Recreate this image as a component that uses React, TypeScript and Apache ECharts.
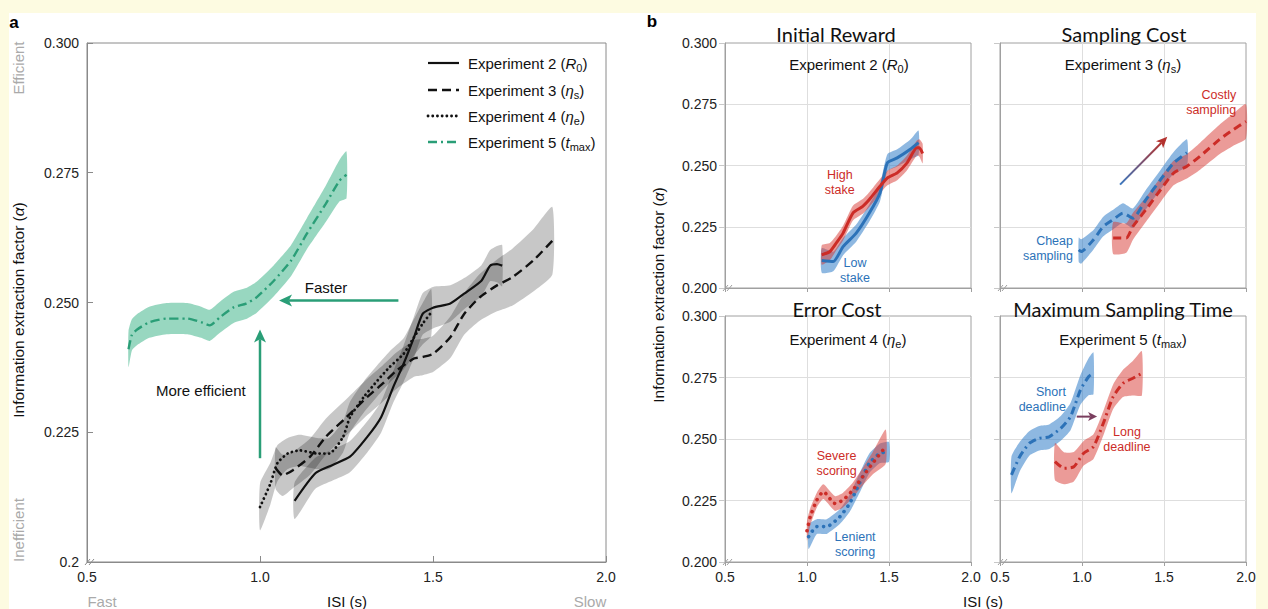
import React, { useEffect, useRef } from "react";
import * as echarts from "echarts";

// ---------------- Panel a data (ISI in s, information extraction factor) ----------------
const exp2X = [1.10, 1.16, 1.21, 1.26, 1.31, 1.35, 1.385, 1.415, 1.445, 1.47, 1.50, 1.55, 1.59, 1.64, 1.665, 1.685, 1.70];
const exp2Y = [0.2118, 0.2171, 0.2187, 0.2203, 0.2241, 0.2279, 0.2337, 0.2382, 0.2433, 0.2478, 0.2490, 0.2498, 0.2517, 0.2542, 0.2571, 0.2574, 0.2571];
const exp2E = [0.0035, 0.003, 0.003, 0.003, 0.003, 0.003, 0.003, 0.0035, 0.004, 0.004, 0.004, 0.0035, 0.003, 0.003, 0.003, 0.0035, 0.004];

const exp3X = [1.045, 1.065, 1.095, 1.145, 1.19, 1.25, 1.31, 1.355, 1.395, 1.445, 1.47, 1.50, 1.55, 1.59, 1.635, 1.685, 1.73, 1.79, 1.845];
const exp3Y = [0.2181, 0.2167, 0.2177, 0.2203, 0.2241, 0.2279, 0.2318, 0.2344, 0.2369, 0.2392, 0.2395, 0.2401, 0.2433, 0.2478, 0.2510, 0.2533, 0.2549, 0.2581, 0.2619];
const exp3E = [0.004, 0.004, 0.0035, 0.0035, 0.0035, 0.0035, 0.0035, 0.0035, 0.0035, 0.0035, 0.0035, 0.0035, 0.004, 0.004, 0.0045, 0.005, 0.0055, 0.006, 0.0065];

const exp4X = [1.00, 1.03, 1.05, 1.08, 1.115, 1.165, 1.20, 1.24, 1.26, 1.30, 1.34, 1.375, 1.415, 1.445, 1.47, 1.495];
const exp4Y = [0.2106, 0.2151, 0.2190, 0.2209, 0.2215, 0.2209, 0.2209, 0.2241, 0.2279, 0.2318, 0.2350, 0.2376, 0.2401, 0.2433, 0.2459, 0.2481];
const exp4E = [0.0045, 0.004, 0.0035, 0.003, 0.003, 0.003, 0.003, 0.003, 0.003, 0.003, 0.003, 0.003, 0.003, 0.0035, 0.004, 0.0045];

const exp5X = [0.62, 0.63, 0.645, 0.68, 0.73, 0.79, 0.83, 0.855, 0.885, 0.925, 0.96, 0.99, 1.04, 1.09, 1.135, 1.19, 1.23, 1.25];
const exp5Y = [0.2410, 0.2438, 0.2448, 0.2462, 0.2469, 0.2469, 0.2462, 0.2456, 0.2472, 0.2491, 0.2498, 0.2510, 0.2542, 0.2581, 0.2632, 0.2690, 0.2735, 0.2746];
const exp5E = [0.0035, 0.003, 0.003, 0.003, 0.003, 0.003, 0.003, 0.003, 0.003, 0.003, 0.003, 0.003, 0.003, 0.003, 0.003, 0.0035, 0.004, 0.0045];

// ---------------- Panel b data ----------------
const rewHighX = [1.09, 1.14, 1.18, 1.22, 1.28, 1.34, 1.38, 1.445, 1.49, 1.55, 1.61, 1.67, 1.685, 1.705];
const rewHighY = [0.2135, 0.2149, 0.2185, 0.2224, 0.2306, 0.2333, 0.2361, 0.2415, 0.2449, 0.2470, 0.2511, 0.2572, 0.2572, 0.2549];
const rewHighE = [0.004, 0.0035, 0.003, 0.003, 0.003, 0.003, 0.003, 0.003, 0.003, 0.003, 0.003, 0.003, 0.0035, 0.004];

const rewLowX = [1.09, 1.16, 1.22, 1.30, 1.38, 1.445, 1.49, 1.55, 1.63, 1.68];
const rewLowY = [0.2112, 0.2108, 0.2169, 0.2224, 0.2306, 0.2388, 0.2511, 0.2531, 0.2566, 0.2593];
const rewLowE = [0.005, 0.004, 0.0035, 0.0035, 0.0035, 0.0035, 0.0035, 0.0035, 0.004, 0.005];

const sampCheapX = [0.98, 0.995, 1.07, 1.13, 1.19, 1.25, 1.31, 1.39, 1.48, 1.56, 1.64];
const sampCheapY = [0.2156, 0.2149, 0.2197, 0.2251, 0.2279, 0.2306, 0.2285, 0.2361, 0.2443, 0.2511, 0.2552];
const sampCheapE = [0.005, 0.005, 0.004, 0.004, 0.004, 0.004, 0.004, 0.004, 0.004, 0.0045, 0.0055];

const sampCostlyX = [1.19, 1.27, 1.31, 1.39, 1.48, 1.56, 1.64, 1.72, 1.84, 1.92, 2.0];
const sampCostlyY = [0.2204, 0.2204, 0.2251, 0.2320, 0.2402, 0.2470, 0.2497, 0.2538, 0.2607, 0.2645, 0.2680];
const sampCostlyE = [0.0065, 0.006, 0.0055, 0.005, 0.005, 0.005, 0.005, 0.0055, 0.006, 0.0065, 0.007];

const errSevereX = [1.00, 1.02, 1.06, 1.10, 1.17, 1.22, 1.28, 1.34, 1.40, 1.48];
const errSevereY = [0.2127, 0.2184, 0.2252, 0.2286, 0.2238, 0.2252, 0.2293, 0.2347, 0.2401, 0.2469];
const errSevereE = [0.004, 0.0035, 0.003, 0.003, 0.003, 0.003, 0.003, 0.0035, 0.0045, 0.007];

const errLenientX = [1.01, 1.06, 1.12, 1.20, 1.26, 1.32, 1.38, 1.445, 1.50];
const errLenientY = [0.2103, 0.2144, 0.2144, 0.2184, 0.2238, 0.2320, 0.2401, 0.2442, 0.2448];
const errLenientE = [0.005, 0.003, 0.003, 0.003, 0.0035, 0.004, 0.004, 0.004, 0.004];

const tmaxShortX = [0.57, 0.62, 0.68, 0.74, 0.80, 0.87, 0.93, 0.99, 1.04, 1.07];
const tmaxShortY = [0.2354, 0.2428, 0.2483, 0.2503, 0.2509, 0.2543, 0.2591, 0.2699, 0.2753, 0.2767];
const tmaxShortE = [0.0075, 0.006, 0.005, 0.005, 0.005, 0.005, 0.0055, 0.006, 0.0075, 0.0085];

const tmaxLongX = [0.835, 0.89, 0.95, 1.01, 1.07, 1.13, 1.19, 1.25, 1.31, 1.365];
const tmaxLongY = [0.2408, 0.2381, 0.2387, 0.2442, 0.2469, 0.2564, 0.2672, 0.2726, 0.2747, 0.2767];
const tmaxLongE = [0.0075, 0.0065, 0.006, 0.005, 0.005, 0.005, 0.005, 0.0055, 0.007, 0.009];

// axis ticks
const xTicks = [0.5, 2.0, 0.5]; // min, max, interval
const yTicks = [0.2, 0.3, 0.025];

// panel b in-plot labels (data coordinates)
const bLabels = [
  { grid: 1, text: "High\nstake", x: 1.2, y: 0.2432, color: "red", align: "center" },
  { grid: 1, text: "Low\nstake", x: 1.293, y: 0.207, color: "blue", align: "center" },
  { grid: 2, text: "Costly\nsampling", x: 1.94, y: 0.2756, color: "red", align: "right" },
  { grid: 2, text: "Cheap\nsampling", x: 0.945, y: 0.216, color: "blue", align: "right" },
  { grid: 3, text: "Severe\nscoring", x: 1.18, y: 0.2402, color: "red", align: "center" },
  { grid: 3, text: "Lenient\nscoring", x: 1.293, y: 0.2071, color: "blue", align: "center" },
  { grid: 4, text: "Short\ndeadline", x: 0.902, y: 0.2661, color: "blue", align: "right" },
  { grid: 4, text: "Long\ndeadline", x: 1.274, y: 0.2498, color: "red", align: "center" },
];

const FONT = '"Liberation Sans", Arial, Helvetica, sans-serif';
const TFONT = 'Lato, "Open Sans", sans-serif';

const RED = "#cc2c27";
const BLUE = "#2c72b8";
const RED_BAND = "rgba(215,55,50,0.5)";
const BLUE_BAND = "rgba(50,125,200,0.55)";
const BLACK = "#111111";
const GRAY_BAND = "rgba(0,0,0,0.22)";
const GREEN = "#2a9e77";
const GREEN_BAND = "rgba(50,175,130,0.5)";
const AXIS_A = "#8a8a8a";
const AXIS_B = "#a0a0a0";

const DASH_A = [9, 5];
const DOT_A = [0.1, 4.6];
const DASHDOT_A = [9, 4, 2, 4];
const DASH_B = [8, 5];
const DOT_B = [0.1, 6.5];
const DASHDOT_B = [8, 4, 2, 4];

const GRIDS = [
  { left: 87, top: 43, width: 519, height: 519 },
  { left: 725, top: 43, width: 246, height: 245 },
  { left: 1000, top: 43, width: 246, height: 245 },
  { left: 725, top: 316, width: 246, height: 246 },
  { left: 1000, top: 316, width: 246, height: 246 },
];

type Def = {
  grid: number; name: string; x: number[]; y: number[]; e: number[];
  color: string; band: string; dash: any; width: number; cap?: string;
};

const DEFS: Def[] = [
  { grid: 0, name: "Experiment 2", x: exp2X, y: exp2Y, e: exp2E, color: BLACK, band: GRAY_BAND, dash: "solid", width: 2.2 },
  { grid: 0, name: "Experiment 3", x: exp3X, y: exp3Y, e: exp3E, color: BLACK, band: GRAY_BAND, dash: DASH_A, width: 2.4 },
  { grid: 0, name: "Experiment 4", x: exp4X, y: exp4Y, e: exp4E, color: BLACK, band: GRAY_BAND, dash: DOT_A, width: 2.8, cap: "round" },
  { grid: 0, name: "Experiment 5", x: exp5X, y: exp5Y, e: exp5E, color: GREEN, band: GREEN_BAND, dash: DASHDOT_A, width: 2.4 },
  { grid: 1, name: "Low stake", x: rewLowX, y: rewLowY, e: rewLowE, color: BLUE, band: BLUE_BAND, dash: "solid", width: 3 },
  { grid: 1, name: "High stake", x: rewHighX, y: rewHighY, e: rewHighE, color: RED, band: RED_BAND, dash: "solid", width: 3 },
  { grid: 2, name: "Cheap sampling", x: sampCheapX, y: sampCheapY, e: sampCheapE, color: BLUE, band: BLUE_BAND, dash: DASH_B, width: 3 },
  { grid: 2, name: "Costly sampling", x: sampCostlyX, y: sampCostlyY, e: sampCostlyE, color: RED, band: RED_BAND, dash: DASH_B, width: 3 },
  { grid: 3, name: "Lenient scoring", x: errLenientX, y: errLenientY, e: errLenientE, color: BLUE, band: BLUE_BAND, dash: DOT_B, width: 3.6, cap: "round" },
  { grid: 3, name: "Severe scoring", x: errSevereX, y: errSevereY, e: errSevereE, color: RED, band: RED_BAND, dash: DOT_B, width: 3.6, cap: "round" },
  { grid: 4, name: "Short deadline", x: tmaxShortX, y: tmaxShortY, e: tmaxShortE, color: BLUE, band: BLUE_BAND, dash: DASHDOT_B, width: 3 },
  { grid: 4, name: "Long deadline", x: tmaxLongX, y: tmaxLongY, e: tmaxLongE, color: RED, band: RED_BAND, dash: DASHDOT_B, width: 3 },
];

function rich(size: number, color: string) {
  const sub = Math.round(size * 0.7);
  return {
    n: { fontSize: size, fontFamily: FONT, fill: color, color, lineHeight: size + 6 },
    i: { fontSize: size, fontFamily: FONT, fill: color, color, fontStyle: "italic", lineHeight: size + 6 },
    s: { fontSize: sub, fontFamily: FONT, fill: color, color, verticalAlign: "bottom", lineHeight: sub },
  };
}

function rtext(x: number, y: number, text: string, size: number, color: string, align = "center", rotation = 0): any {
  return {
    type: "text", x, y, rotation, silent: true, z: 20,
    style: { text, rich: rich(size, color), fontSize: size, fontFamily: FONT, fill: color, align, verticalAlign: "middle" },
  };
}

function ptext(x: number, y: number, text: string, size: number, color: string, opts: any = {}): any {
  return {
    type: "text", x, y, silent: true, z: 20, rotation: opts.rotation || 0,
    style: {
      text, fontSize: size, fontFamily: opts.font || FONT, fill: color, align: opts.align || "center",
      verticalAlign: "middle", fontWeight: opts.weight || "normal", lineHeight: opts.lineHeight,
    },
  };
}

function arrow(p0: number[], p1: number[], color: string, lw: number, hl: number, hw: number, stroke?: any): any[] {
  const dx = p1[0] - p0[0], dy = p1[1] - p0[1];
  const L = Math.hypot(dx, dy);
  const ux = dx / L, uy = dy / L;
  const nx = -uy, ny = ux;
  const bx = p1[0] - ux * hl, by = p1[1] - uy * hl;
  const notchX = bx + ux * hl * 0.25, notchY = by + uy * hl * 0.25;
  return [
    { type: "line", silent: true, z: 20, shape: { x1: p0[0], y1: p0[1], x2: notchX, y2: notchY }, style: { stroke: stroke || color, lineWidth: lw } },
    {
      type: "polygon", silent: true, z: 20,
      shape: { points: [[p1[0], p1[1]], [bx + nx * hw / 2, by + ny * hw / 2], [notchX, notchY], [bx - nx * hw / 2, by - ny * hw / 2]] },
      style: { fill: color },
    },
  ];
}

function slashes(x: number, y: number, color: string): any[] {
  return [
    { type: "line", silent: true, z: 20, shape: { x1: x - 3, y1: y + 3, x2: x + 2, y2: y - 3 }, style: { stroke: color, lineWidth: 1 } },
    { type: "line", silent: true, z: 20, shape: { x1: x + 1, y1: y + 3, x2: x + 6, y2: y - 3 }, style: { stroke: color, lineWidth: 1 } },
  ];
}

export default function App() {
  const ref = useRef<HTMLDivElement>(null);

  useEffect(() => {
    const chart = echarts.init(ref.current!, null, { renderer: "svg" });

    const grid = GRIDS.map((g, i) => ({
      ...g, show: true, borderColor: i === 0 ? AXIS_A : AXIS_B, borderWidth: 1, backgroundColor: "transparent", containLabel: false,
    }));

    const xAxis = GRIDS.map((_, i) => ({
      gridIndex: i, type: "value", min: xTicks[0], max: xTicks[1], interval: xTicks[2],
      axisLine: { show: true, onZero: false, lineStyle: { color: i === 0 ? AXIS_A : AXIS_B, width: 1 } },
      axisTick: { show: true, inside: i === 0, length: i === 0 ? 6 : 4, lineStyle: { color: i === 0 ? AXIS_A : AXIS_B } },
      axisLabel: {
        show: i === 0 || i >= 3, margin: 8, fontSize: 14, color: "#222", fontFamily: FONT,
        formatter: (v: number) => v.toFixed(1), showMinLabel: true, showMaxLabel: true,
      },
      splitLine: { show: i > 0, showMinLine: false, showMaxLine: false, lineStyle: { color: "#dedede", width: 1 } },
    }));

    const yAxis = GRIDS.map((_, i) => ({
      gridIndex: i, type: "value", min: yTicks[0], max: yTicks[1], interval: yTicks[2],
      axisLine: { show: true, onZero: false, lineStyle: { color: i === 0 ? AXIS_A : AXIS_B, width: 1 } },
      axisTick: { show: true, inside: i === 0, length: 6, lineStyle: { color: i === 0 ? AXIS_A : "#c8c8c8" } },
      axisLabel: {
        show: i === 0 || i === 1 || i === 3, margin: 8, fontSize: 14, color: "#222", fontFamily: FONT,
        formatter: (v: number) => (i === 0 && Math.abs(v - 0.2) < 1e-9 ? "0.2" : v.toFixed(3)),
        showMinLabel: true, showMaxLabel: true,
      },
      splitLine: { show: i > 0, showMinLine: false, showMaxLine: false, lineStyle: { color: "#dedede", width: 1 } },
    }));

    const series: any[] = [];
    DEFS.forEach((d) => {
      series.push({
        type: "custom", name: d.name + " band", xAxisIndex: d.grid, yAxisIndex: d.grid, silent: true, z: 1, clip: false,
        data: d.x.map((x, k) => [x, d.y[k] - d.e[k], d.y[k] + d.e[k]]),
        encode: { x: 0, y: [1, 2] },
        renderItem: (params: any, api: any) => {
          if (params.dataIndexInside !== 0) return null;
          const up = d.x.map((x, k) => api.coord([x, d.y[k] + d.e[k]]));
          const lo = d.x.map((x, k) => api.coord([x, d.y[k] - d.e[k]])).reverse();
          return {
            type: "polygon",
            shape: { points: up.concat(lo), smooth: 0.18 },
            style: { fill: d.band },
          };
        },
      });
    });
    DEFS.forEach((d) => {
      series.push({
        type: "line", name: d.name, xAxisIndex: d.grid, yAxisIndex: d.grid, silent: true, z: 3,
        data: d.x.map((x, k) => [x, d.y[k]]), symbol: "none", showSymbol: false, smooth: 0.2,
        lineStyle: { color: d.color, width: d.width, type: d.dash, cap: d.cap || "butt" },
      });
    });

    chart.setOption({
      animation: false,
      backgroundColor: "transparent",
      grid, xAxis, yAxis, series,
    });

    const P = (g: number, x: number, y: number) => chart.convertToPixel({ gridIndex: g } as any, [x, y]) as number[];

    const g: any[] = [];
    // panel letters
    g.push(ptext(14, 22, "a", 17, "#000", { weight: "bold" }));
    g.push(ptext(652, 21, "b", 17, "#000", { weight: "bold" }));

    // panel a side labels
    g.push(ptext(18, 68, "Efficient", 15, "#aaaaaa", { rotation: Math.PI / 2 }));
    g.push(ptext(18, 530, "Inefficient", 15, "#aaaaaa", { rotation: Math.PI / 2 }));
    g.push(rtext(18, 310, "{n|Information extraction factor (}{i|α}{n|)}", 15.5, "#111", "center", Math.PI / 2));
    g.push(ptext(102, 601, "Fast", 15, "#aaaaaa"));
    g.push(ptext(590, 601, "Slow", 15, "#aaaaaa"));
    g.push(ptext(347, 601, "ISI (s)", 15, "#111"));

    // panel a legend
    const legRows = [
      { y: 63, color: BLACK, dash: null, w: 2.2, cap: "butt", label: "{n|Experiment 2 (}{i|R}{s|0}{n|)}" },
      { y: 90, color: BLACK, dash: DASH_A, w: 2.6, cap: "butt", label: "{n|Experiment 3 (}{i|η}{s|s}{n|)}" },
      { y: 116, color: BLACK, dash: DOT_A, w: 2.8, cap: "round", label: "{n|Experiment 4 (}{i|η}{s|e}{n|)}" },
      { y: 142, color: GREEN, dash: DASHDOT_A, w: 2.6, cap: "butt", label: "{n|Experiment 5 (}{i|t}{s|max}{n|)}" },
    ];
    legRows.forEach((r) => {
      g.push({
        type: "line", silent: true, z: 20, shape: { x1: 428, y1: r.y, x2: 459, y2: r.y },
        style: { stroke: r.color, lineWidth: r.w, lineDash: r.dash || undefined, lineCap: r.cap },
      });
      g.push(rtext(468, r.y, r.label, 15, "#111", "left"));
    });

    // panel a annotations (placed in data coordinates)
    const fa = P(0, 1.191, 0.2529);
    g.push(ptext(fa[0], fa[1], "Faster", 15, "#111"));
    g.push(...arrow(P(0, 1.40, 0.2504), P(0, 1.055, 0.2504), GREEN, 2.5, 13, 12));
    const me = P(0, 0.829, 0.2331);
    g.push(ptext(me[0], me[1], "More efficient", 15, "#111"));
    g.push(...arrow(P(0, 1.0, 0.2200), P(0, 1.0, 0.2448), GREEN, 2.5, 13, 12));
    g.push(...slashes(88, 562, AXIS_A));

    // panel b titles / subtitles
    g.push(ptext(836, 34, "Initial Reward", 20, "#111", { font: TFONT }));
    g.push(ptext(1124, 34, "Sampling Cost", 20, "#111", { font: TFONT }));
    g.push(ptext(837, 309, "Error Cost", 20, "#111", { font: TFONT }));
    g.push(ptext(1123, 309, "Maximum Sampling Time", 20, "#111", { font: TFONT }));
    g.push(rtext(849, 64, "{n|Experiment 2 (}{i|R}{s|0}{n|)}", 15, "#111"));
    g.push(rtext(1123, 64, "{n|Experiment 3 (}{i|η}{s|s}{n|)}", 15, "#111"));
    g.push(rtext(848, 339, "{n|Experiment 4 (}{i|η}{s|e}{n|)}", 15, "#111"));
    g.push(rtext(1123, 339, "{n|Experiment 5 (}{i|t}{s|max}{n|)}", 15, "#111"));
    g.push(rtext(658, 295, "{n|Information extraction factor (}{i|α}{n|)}", 15.5, "#111", "center", Math.PI / 2));
    g.push(ptext(983, 601, "ISI (s)", 15, "#111"));

    bLabels.forEach((l) => {
      const p = P(l.grid, l.x, l.y);
      g.push(ptext(p[0], p[1], l.text, 12.5, l.color === "red" ? RED : BLUE, { align: l.align, lineHeight: 15 }));
    });

    // panel b arrows
    const grad = new echarts.graphic.LinearGradient(0, 1, 1, 0, [
      { offset: 0, color: "#3a78c0" },
      { offset: 1, color: "#b3322e" },
    ]);
    g.push(...arrow(P(2, 1.232, 0.2422), P(2, 1.52, 0.2617), "#b3322e", 2, 11, 10, grad));
    g.push(...arrow(P(4, 0.968, 0.2591), P(4, 1.092, 0.2591), "#7a3e5e", 2, 9, 9));

    [[725, 288], [1000, 288], [725, 562], [1000, 562]].forEach((c) => g.push(...slashes(c[0] + 1, c[1], AXIS_B)));

    chart.setOption({ graphic: g });

    return () => chart.dispose();
  }, []);

  return (
    <div style={{ position: "fixed", left: 0, top: 0, width: 1268, height: 609, background: "#fdfbe1", overflow: "hidden" }}>
      <div style={{ position: "absolute", left: 9, top: 13, width: 1247, height: 596, background: "#ffffff" }} />
      <div ref={ref} style={{ position: "absolute", left: 0, top: 0, width: 1268, height: 609 }} />
    </div>
  );
}
